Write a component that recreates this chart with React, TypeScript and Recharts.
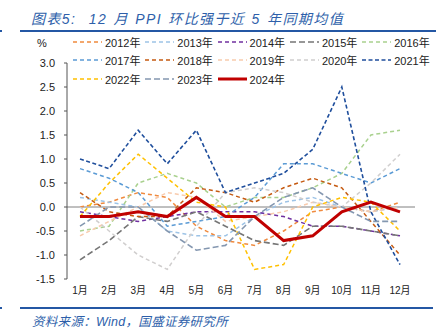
import React from 'react';
import { LineChart, Line, XAxis, YAxis, ReferenceLine } from 'recharts';

const months = ['1月', '2月', '3月', '4月', '5月', '6月', '7月', '8月', '9月', '10月', '11月', '12月'];
const yTicks = [-1.5, -1.0, -0.5, 0.0, 0.5, 1.0, 1.5, 2.0, 2.5, 3.0];

const v2012 = [0.0, 0.1, 0.3, 0.2, -0.4, -0.7, -0.8, -0.5, -0.1, 0.0, -0.1, 0.1];
const v2013 = [0.2, 0.1, 0.0, -0.5, -0.6, -0.6, -0.2, 0.1, 0.2, 0.0, -0.1, 0.0];
const v2014 = [-0.1, -0.2, -0.3, -0.2, -0.1, -0.1, -0.1, -0.2, -0.4, -0.4, -0.5, -0.6];
const v2015 = [-1.1, -0.7, -0.2, -0.3, -0.1, -0.4, -0.7, -0.8, -0.4, -0.4, -0.5, -0.6];
const v2016 = [-0.5, -0.4, 0.5, 0.7, 0.5, 0.0, 0.2, 0.2, 0.4, 0.7, 1.5, 1.6];
const v2017 = [0.8, 0.6, 0.3, -0.4, -0.3, -0.2, 0.2, 0.9, 0.9, 0.7, 0.5, 0.8];
const v2018 = [0.3, -0.1, -0.2, -0.2, 0.4, 0.3, 0.1, 0.4, 0.6, 0.4, -0.3, -1.0];
const v2019 = [-0.6, -0.3, 0.0, 0.3, 0.2, -0.3, -0.2, -0.1, 0.1, 0.0, -0.1, 0.0];
const v2020 = [0.0, -0.5, -1.0, -1.3, -0.4, 0.3, 0.4, 0.3, 0.1, 0.0, 0.5, 1.1];
const v2021 = [1.0, 0.8, 1.6, 0.9, 1.6, 0.3, 0.5, 0.7, 1.2, 2.5, -0.1, -1.2];
const v2022 = [-0.2, 0.5, 1.1, 0.6, 0.1, 0.0, -1.3, -1.2, 0.0, 0.2, 0.1, -0.5];
const v2023 = [-0.4, 0.0, 0.0, -0.5, -0.9, -0.8, -0.2, 0.2, 0.4, 0.0, -0.3, -0.3];
const v2024 = [-0.2, -0.2, -0.1, -0.2, 0.2, -0.2, -0.2, -0.7, -0.6, -0.1, 0.1, -0.1];

const seriesValues: Record<string, number[]> = {
  '2012年': v2012, '2013年': v2013, '2014年': v2014, '2015年': v2015, '2016年': v2016,
  '2017年': v2017, '2018年': v2018, '2019年': v2019, '2020年': v2020, '2021年': v2021,
  '2022年': v2022, '2023年': v2023, '2024年': v2024,
};

const styles = [
  { key: '2012年', color: '#F08A3E', dash: '4 3', w: 1.5 },
  { key: '2013年', color: '#9DC3E6', dash: '4 3', w: 1.5 },
  { key: '2014年', color: '#7030A0', dash: '4 3', w: 1.5 },
  { key: '2015年', color: '#767676', dash: '6 3', w: 1.6 },
  { key: '2016年', color: '#A9D18E', dash: '4 3', w: 1.5 },
  { key: '2017年', color: '#5B9BD5', dash: '4 3', w: 1.5 },
  { key: '2018年', color: '#C55A11', dash: '4 3', w: 1.5 },
  { key: '2019年', color: '#F8CBAD', dash: '4 3', w: 1.5 },
  { key: '2020年', color: '#D0CECE', dash: '4 3', w: 1.5 },
  { key: '2021年', color: '#1F4E9C', dash: '4 2.5', w: 1.6 },
  { key: '2022年', color: '#FFC000', dash: '4 3', w: 1.5 },
  { key: '2023年', color: '#8497B0', dash: '6 3', w: 1.6 },
  { key: '2024年', color: '#C00000', dash: '', w: 3 },
];

const data = months.map((m, i) => {
  const row: Record<string, any> = { month: m };
  Object.keys(seriesValues).forEach((k) => { row[k] = seriesValues[k][i]; });
  return row;
});

const FONT = '"Liberation Sans", Arial, "Noto Sans CJK SC", sans-serif';
const BLUE = '#2E5FAA';

export default function App() {
  return (
    <div style={{ position: 'absolute', left: 0, top: 0, width: 440, height: 336, background: '#fff', fontFamily: FONT, overflow: 'hidden' }}>
      <div style={{ position: 'absolute', left: 31, top: 8, fontSize: 14, fontStyle: 'italic', color: BLUE, whiteSpace: 'pre', fontFamily: FONT, wordSpacing: 1, letterSpacing: 1.4 }}>
        {'图表5:  12 月 PPI 环比强于近 5 年同期均值'}
      </div>
      <div style={{ position: 'absolute', left: 20, top: 30, width: 416, height: 2, background: '#2457A4' }} />
      <div style={{ position: 'absolute', left: 0, top: 30, width: 2, height: 2, background: '#2457A4' }} />

      <div style={{ position: 'absolute', left: 37, top: 37, fontSize: 11, color: '#222' }}>%</div>

      {styles.map((s, i) => {
        const col = i % 5;
        const row = Math.floor(i / 5);
        const left = 73 + col * 72.3;
        const top = 42 + row * 18.3;
        return (
          <div key={s.key} style={{ position: 'absolute', left, top: top - 7, height: 14, display: 'flex', alignItems: 'center', whiteSpace: 'nowrap' }}>
            <svg width={30} height={6} style={{ display: 'block' }}>
              <line x1={0} y1={3} x2={29} y2={3} stroke={s.color} strokeWidth={s.w} strokeDasharray={s.dash || undefined} />
            </svg>
            <span style={{ fontSize: 11, color: '#222', marginLeft: 2 }}>{s.key}</span>
          </div>
        );
      })}

      <div style={{ position: 'absolute', left: 0, top: 0 }}>
        <LineChart width={440} height={336} data={data} margin={{ top: 63, right: 25, bottom: 27, left: 7 }}>
          <XAxis dataKey="month" axisLine={false} tickLine={false} interval={0}
            padding={{ left: 13, right: 15 }} height={30}
            tick={{ fontSize: 10, fill: '#222', fontFamily: FONT }} tickMargin={2} />
          <YAxis domain={[-1.5, 3]} ticks={yTicks} width={60} interval={0}
            tickFormatter={(v: number) => v.toFixed(1)}
            axisLine={{ stroke: '#555' }} tickLine={{ stroke: '#555' }} tickSize={3} tickMargin={9}
            tick={{ fontSize: 11, fill: '#222', fontFamily: FONT }} />
          <ReferenceLine y={0} stroke="#808080" strokeWidth={1} />
          {styles.map((s) => (
            <Line key={s.key} type="linear" dataKey={s.key} stroke={s.color} strokeWidth={s.w}
              strokeDasharray={s.dash || undefined} dot={false} activeDot={false} isAnimationActive={false} />
          ))}
        </LineChart>
      </div>

      <div style={{ position: 'absolute', left: 20, top: 307, width: 413, height: 2, background: '#2457A4' }} />
      <div style={{ position: 'absolute', left: 0, top: 307, width: 2, height: 2, background: '#2457A4' }} />
      <div style={{ position: 'absolute', left: 32, top: 311, fontSize: 12.5, fontStyle: 'italic', color: BLUE, whiteSpace: 'nowrap', fontFamily: FONT, letterSpacing: 0.3 }}>
        资料来源：Wind，国盛证券研究所
      </div>
    </div>
  );
}
